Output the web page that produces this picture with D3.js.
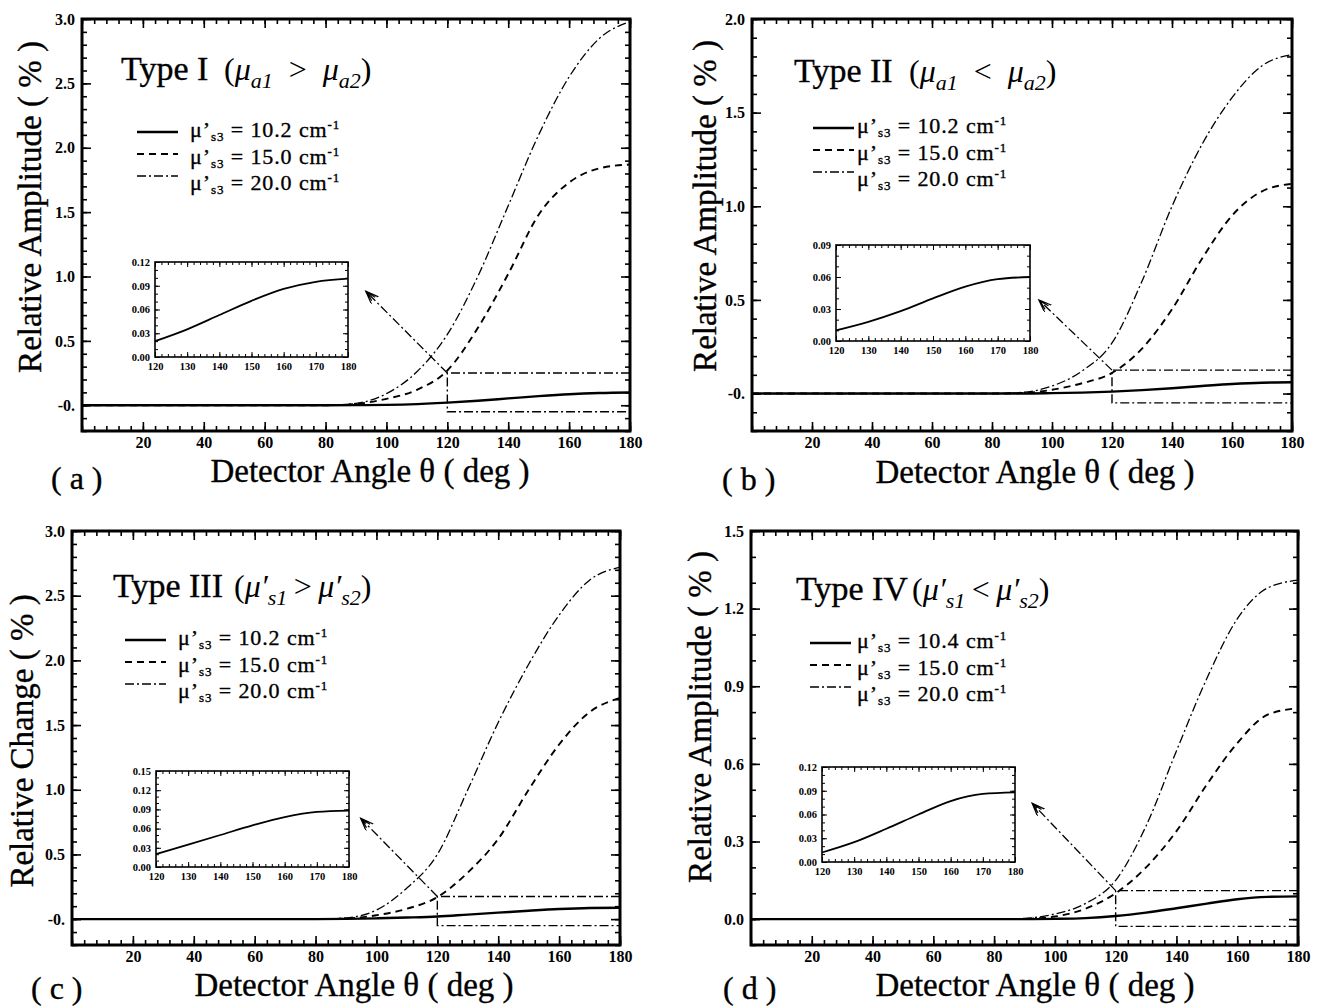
<!DOCTYPE html>
<html>
<head>
<meta charset="utf-8">
<script src="https://cdn.jsdelivr.net/npm/d3@7/dist/d3.min.js"></script>
<style>
  body { margin: 0; background: #fff; }
  text { font-family: "Liberation Serif", "Times New Roman", serif; fill: #000; }
  .heavy { stroke: #000; stroke-width: 0.35px; }
</style>
</head>
<body>
<svg id="fig" width="1320" height="1007"></svg>
<script>
const angles = [0, 20, 40, 60, 80, 90, 100, 110, 120, 130, 140, 150, 160, 170, 180];

// Type I
const solidA = [0, 0, 0, 0, 0, 0.001, 0.003, 0.009, 0.02, 0.035, 0.053, 0.071, 0.086, 0.095, 0.099];
const dashA  = [0, 0, 0, 0, 0, 0.01, 0.05, 0.12, 0.27, 0.6, 1.02, 1.48, 1.73, 1.84, 1.87];
const dotA   = [0, 0, 0, 0, 0, 0.015, 0.09, 0.26, 0.55, 1.0, 1.55, 2.1, 2.55, 2.85, 2.98];
// Type II
const solidB = [0, 0, 0, 0, 0, 0, 0.002, 0.005, 0.01, 0.018, 0.028, 0.04, 0.051, 0.058, 0.06];
const dashB  = [0, 0, 0, 0, 0, 0.003, 0.02, 0.055, 0.11, 0.24, 0.45, 0.72, 0.95, 1.08, 1.12];
const dotB   = [0, 0, 0, 0, 0, 0.006, 0.04, 0.12, 0.27, 0.6, 1.0, 1.33, 1.58, 1.75, 1.81];
// Type III
const solidC = [0, 0, 0, 0, 0, 0.002, 0.006, 0.012, 0.02, 0.035, 0.05, 0.065, 0.078, 0.086, 0.088];
const dashC  = [0, 0, 0, 0, 0, 0.005, 0.03, 0.08, 0.17, 0.36, 0.62, 1.0, 1.35, 1.6, 1.71];
const dotC   = [0, 0, 0, 0, 0, 0.01, 0.07, 0.24, 0.5, 1.0, 1.52, 1.97, 2.35, 2.62, 2.72];
// Type IV
const solidD = [0, 0, 0, 0, 0, 0, 0.001, 0.004, 0.012, 0.025, 0.042, 0.06, 0.077, 0.086, 0.088];
const dashD  = [0, 0, 0, 0, 0, 0.001, 0.01, 0.04, 0.1, 0.2, 0.34, 0.52, 0.68, 0.79, 0.815];
const dotD   = [0, 0, 0, 0, 0, 0.003, 0.02, 0.06, 0.15, 0.36, 0.65, 0.93, 1.16, 1.28, 1.31];

// ticks
const xTicks = [20, 40, 60, 80, 100, 120, 140, 160, 180];
const yTicksA = [0, 0.5, 1.0, 1.5, 2.0, 2.5, 3.0];
const yLabelsA = ['-0.', '0.5', '1.0', '1.5', '2.0', '2.5', '3.0'];
const yTicksB = [0, 0.5, 1.0, 1.5, 2.0];
const yLabelsB = ['-0.', '0.5', '1.0', '1.5', '2.0'];
const yTicksD = [0, 0.3, 0.6, 0.9, 1.2, 1.5];
const yLabelsD = ['0.0', '0.3', '0.6', '0.9', '1.2', '1.5'];
const insetXTicks = [120, 130, 140, 150, 160, 170, 180];
const insetYTicks12 = [0, 0.03, 0.06, 0.09, 0.12];
const insetYTicks09 = [0, 0.03, 0.06, 0.09];
const insetYTicks15 = [0, 0.03, 0.06, 0.09, 0.12, 0.15];

const legendVals = ['10.2', '15.0', '20.0'];
const legendValsD = ['10.4', '15.0', '20.0'];

const panels = [
  { tag: 'a', type: 'Type I', prime: false, s1: 'a1', op: '>', s2: 'a2',
    ytitle: 'Relative Amplitude ( % )',
    solid: solidA, dash: dashA, dot: dotA, yTicks: yTicksA, yLabels: yLabelsA,
    yDomain: [-0.2, 3.0], x0: 82, x1: 630, y0: 19, y1: 431,
    legend: legendVals, legX: 137, legY: 132, legTextX: 190,
    titleX: 121, titleY: 80, mathX: 224,
    ytX: 41, ytY: 207, xtX: 370, xtY: 482, tagX: 51, tagY: 489,
    inset: { x0: 155, x1: 348, y0: 262, y1: 357, ymax: 0.12, ticks: insetYTicks12 },
    box: [-0.05, 0.25], tip: [93.2, 0.886] },
  { tag: 'b', type: 'Type II', prime: false, s1: 'a1', op: '<', s2: 'a2',
    ytitle: 'Relative Amplitude ( % )',
    solid: solidB, dash: dashB, dot: dotB, yTicks: yTicksB, yLabels: yLabelsB,
    yDomain: [-0.2, 2.0], x0: 752, x1: 1292, y0: 19, y1: 431,
    legend: legendVals, legX: 813, legY: 128, legTextX: 857,
    titleX: 794, titleY: 82, mathX: 909,
    ytX: 716, ytY: 206, xtX: 1035, xtY: 483, tagX: 722, tagY: 490,
    inset: { x0: 836, x1: 1030, y0: 245, y1: 341, ymax: 0.09, ticks: insetYTicks09 },
    box: [-0.05, 0.125], tip: [95.6, 0.5] },
  { tag: 'c', type: 'Type III', prime: true, s1: 's1', op: '>', s2: 's2',
    ytitle: 'Relative Change ( % )',
    solid: solidC, dash: dashC, dot: dotC, yTicks: yTicksA, yLabels: yLabelsA,
    yDomain: [-0.2, 3.0], x0: 72, x1: 620, y0: 531, y1: 945,
    legend: legendVals, legX: 125, legY: 640, legTextX: 178,
    titleX: 113, titleY: 597, mathX: 234,
    ytX: 33, ytY: 741, xtX: 354, xtY: 996, tagX: 31, tagY: 999,
    inset: { x0: 156, x1: 349, y0: 771, y1: 867, ymax: 0.15, ticks: insetYTicks15 },
    box: [-0.05, 0.175], tip: [94.8, 0.78] },
  { tag: 'd', type: 'Type IV', prime: true, s1: 's1', op: '<', s2: 's2',
    ytitle: 'Relative Amplitude ( % )',
    solid: solidD, dash: dashD, dot: dotD, yTicks: yTicksD, yLabels: yLabelsD,
    yDomain: [-0.1, 1.5], x0: 751, x1: 1298, y0: 531, y1: 945,
    legend: legendValsD, legX: 810, legY: 643, legTextX: 857,
    titleX: 796, titleY: 600, mathX: 912,
    ytX: 711, ytY: 717, xtX: 1035, xtY: 996, tagX: 723, tagY: 999,
    inset: { x0: 822, x1: 1015, y0: 767, y1: 862, ymax: 0.12, ticks: insetYTicks12 },
    box: [-0.028, 0.11], tip: [92.5, 0.448] }
];

const svg = d3.select('#fig');

svg.append('defs').append('marker')
  .attr('id', 'head')
  .attr('markerUnits', 'userSpaceOnUse')
  .attr('markerWidth', 16).attr('markerHeight', 12)
  .attr('refX', 13).attr('refY', 5)
  .attr('orient', 'auto')
  .append('path')
  .attr('d', 'M0,0 L13,5 L0,10 M2,2.5 L11,5 L2,7.5')
  .attr('fill', 'none').attr('stroke', '#000').attr('stroke-width', 1.2);

const styles = {
  solid: { w: 2.4, dash: null },
  dash:  { w: 1.9, dash: '7,5' },
  dot:   { w: 1.3, dash: '9,3,2,3' }
};

function range(a, b, step) {
  const out = [];
  for (let v = a; v <= b + 1e-9; v += step) out.push(+v.toFixed(4));
  return out;
}

function frameAxes(g, x, y, xMajor, xMinor, yMajor, yMinor, opt) {
  const [xa, xb] = x.range();
  const [ya, yb] = y.range();
  const tickBits = (sel) => {
    sel.select('.domain').remove();
    sel.selectAll('line').attr('stroke', '#000').attr('stroke-width', opt.tw);
  };
  // minor ticks on all four sides
  g.append('g').attr('transform', `translate(0,${ya})`)
    .call(d3.axisBottom(x).tickValues(xMinor).tickSize(-opt.minor).tickFormat('')).call(tickBits);
  g.append('g').attr('transform', `translate(0,${yb})`)
    .call(d3.axisTop(x).tickValues(xMinor).tickSize(-opt.minor).tickFormat('')).call(tickBits);
  g.append('g').attr('transform', `translate(${xa},0)`)
    .call(d3.axisLeft(y).tickValues(yMinor).tickSize(-opt.minor).tickFormat('')).call(tickBits);
  g.append('g').attr('transform', `translate(${xb},0)`)
    .call(d3.axisRight(y).tickValues(yMinor).tickSize(-opt.minor).tickFormat('')).call(tickBits);
  // major ticks with labels
  const bx = g.append('g').attr('transform', `translate(0,${ya})`)
    .call(d3.axisBottom(x).tickValues(xMajor).tickSize(-opt.major).tickPadding(opt.xpad)
      .tickFormat(d => d)).call(tickBits);
  const ly = g.append('g').attr('transform', `translate(${xa},0)`)
    .call(d3.axisLeft(y).tickValues(yMajor).tickSize(-opt.major).tickPadding(opt.pad)
      .tickFormat((d, i) => opt.yLabels ? opt.yLabels[i] : d.toFixed(2))).call(tickBits);
  g.append('g').attr('transform', `translate(0,${yb})`)
    .call(d3.axisTop(x).tickValues(xMajor).tickSize(-opt.major).tickFormat('')).call(tickBits);
  g.append('g').attr('transform', `translate(${xb},0)`)
    .call(d3.axisRight(y).tickValues(yMajor).tickSize(-opt.major).tickFormat('')).call(tickBits);
  [bx, ly].forEach(s => s.selectAll('text')
    .style('font-family', '"Liberation Serif", serif')
    .style('font-weight', 'bold')
    .style('font-size', opt.fs + 'px')
    .attr('fill', '#000'));
  g.append('rect')
    .attr('x', xa).attr('y', yb).attr('width', xb - xa).attr('height', ya - yb)
    .attr('fill', 'none').attr('stroke', '#000').attr('stroke-width', opt.fw);
}

function drawPanel(p) {
  const g = svg.append('g');
  const x = d3.scaleLinear().domain([0, 180]).range([p.x0, p.x1]);
  const y = d3.scaleLinear().domain(p.yDomain).range([p.y1, p.y0]);

  const line = d3.line()
    .x((d, i) => x(angles[i]))
    .y(d => y(d))
    .curve(d3.curveMonotoneX);

  ['solid', 'dash', 'dot'].forEach(k => {
    g.append('path')
      .attr('d', line(p[k]))
      .attr('fill', 'none')
      .attr('stroke', '#000')
      .attr('stroke-width', styles[k].w)
      .attr('stroke-dasharray', styles[k].dash);
  });

  // zoom box and arrow to the inset
  g.append('path')
    .attr('d', `M${x(180)},${y(p.box[1])} H${x(120)} V${y(p.box[0])} H${x(180)}`)
    .attr('fill', 'none').attr('stroke', '#000').attr('stroke-width', 1.4)
    .attr('stroke-dasharray', '9,3,2,3');
  g.append('line')
    .attr('x1', x(120)).attr('y1', y(p.box[1]))
    .attr('x2', x(p.tip[0])).attr('y2', y(p.tip[1]))
    .attr('stroke', '#000').attr('stroke-width', 1.3)
    .attr('stroke-dasharray', '9,3,2,3')
    .attr('marker-end', 'url(#head)');

  frameAxes(g, x, y, xTicks, range(0, 180, 4), p.yTicks,
    range(p.yDomain[0], p.yDomain[1], 0.1),
    { major: 9, minor: 5, pad: 7, xpad: 6, fs: 16, tw: 1.6, fw: 3, yLabels: p.yLabels });

  // title
  g.append('text').attr('x', p.titleX).attr('y', p.titleY).attr('class', 'heavy')
    .style('font-size', '34px').text(p.type);
  const fs = 32, sh = 8;
  const sp = p.prime ? '\u2009' : '\u2002';
  const m = g.append('text').attr('x', p.mathX).attr('y', p.titleY).style('font-size', fs + 'px');
  m.append('tspan').text('(');
  m.append('tspan').style('font-style', 'italic').text(p.prime ? 'μ′' : 'μ');
  m.append('tspan').style('font-style', 'italic').style('font-size', '22px').attr('dy', sh).text(p.s1);
  m.append('tspan').attr('dy', -sh).text(sp + p.op + sp);
  m.append('tspan').style('font-style', 'italic').text(p.prime ? 'μ′' : 'μ');
  m.append('tspan').style('font-style', 'italic').style('font-size', '22px').attr('dy', sh).text(p.s2);
  m.append('tspan').attr('dy', -sh).text(')');

  // legend
  const lineOff = [0, 22, 44];
  const textOff = [5, 31.5, 58];
  ['solid', 'dash', 'dot'].forEach((k, i) => {
    g.append('line')
      .attr('x1', p.legX).attr('x2', p.legX + 41)
      .attr('y1', p.legY + lineOff[i]).attr('y2', p.legY + lineOff[i])
      .attr('stroke', '#000').attr('stroke-width', styles[k].w)
      .attr('stroke-dasharray', styles[k].dash);
    const t = g.append('text').attr('x', p.legTextX).attr('y', p.legY + textOff[i])
      .attr('class', 'heavy').style('font-size', '22px').style('letter-spacing', '0.9px');
    t.append('tspan').text('μ’');
    t.append('tspan').style('font-size', '13px').attr('dy', 4).text('s3');
    t.append('tspan').attr('dy', -4).text(' = ' + p.legend[i] + ' cm');
    t.append('tspan').style('font-size', '13px').attr('dy', -8).text('-1');
  });

  // axis titles and panel tag
  g.append('text')
    .attr('transform', `translate(${p.ytX},${p.ytY}) rotate(-90)`)
    .attr('text-anchor', 'middle').attr('class', 'heavy')
    .style('font-size', '33px')
    .text(p.ytitle);
  g.append('text')
    .attr('x', p.xtX).attr('y', p.xtY)
    .attr('text-anchor', 'middle').attr('class', 'heavy')
    .style('font-size', '33px')
    .text('Detector Angle θ ( deg )');
  g.append('text')
    .attr('x', p.tagX).attr('y', p.tagY).attr('class', 'heavy')
    .style('font-size', '32px')
    .text(`( ${p.tag} )`);

  // inset: zoom on the solid curve
  const q = p.inset;
  const ix = d3.scaleLinear().domain([120, 180]).range([q.x0, q.x1]);
  const iy = d3.scaleLinear().domain([0, q.ymax]).range([q.y1, q.y0]);
  const gi = svg.append('g');
  gi.append('rect').attr('x', q.x0).attr('y', q.y0)
    .attr('width', q.x1 - q.x0).attr('height', q.y1 - q.y0).attr('fill', '#fff');
  const iline = d3.line()
    .x(d => ix(d[0])).y(d => iy(d[1]))
    .curve(d3.curveMonotoneX);
  const pts = angles.map((a, i) => [a, p.solid[i]]).filter(d => d[0] >= 120);
  gi.append('path').attr('d', iline(pts))
    .attr('fill', 'none').attr('stroke', '#000').attr('stroke-width', 1.8);
  frameAxes(gi, ix, iy, insetXTicks, range(120, 180, 2), q.ticks, range(0, q.ymax, 0.01),
    { major: 5, minor: 3, pad: 5, xpad: 6, fs: 10.5, tw: 1, fw: 1.6, yLabels: null });
}

panels.forEach(drawPanel);
</script>
</body>
</html>
